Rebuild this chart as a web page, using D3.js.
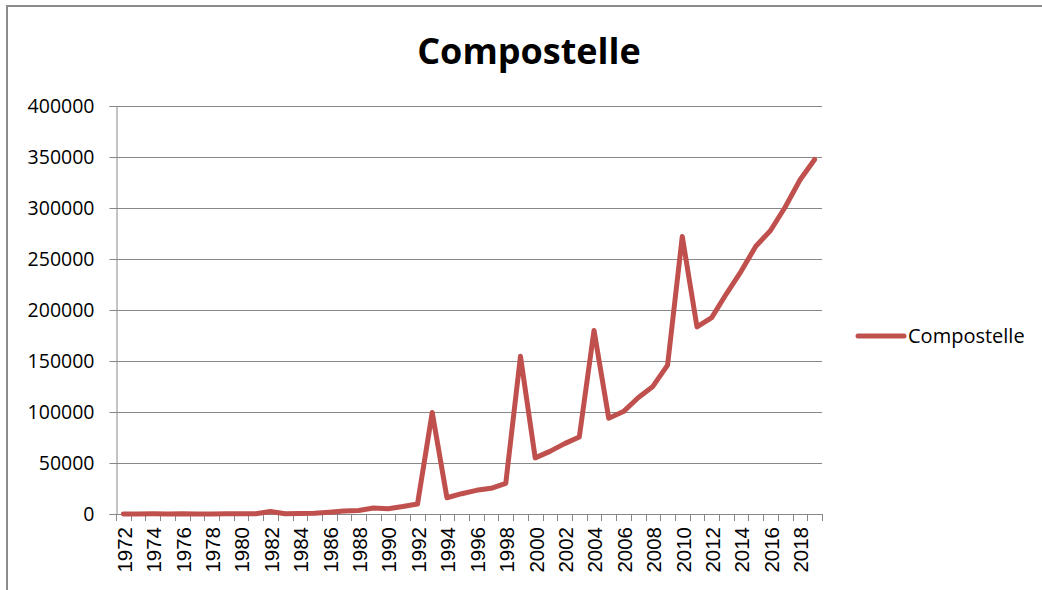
<!DOCTYPE html>
<html>
<head>
<meta charset="utf-8">
<script src="https://cdn.jsdelivr.net/npm/d3@7"></script>
<style>
  html, body { margin: 0; padding: 0; background: #fff; }
  svg { display: block; }
</style>
</head>
<body>
<div id="chart"></div>
<script>
// chart data
const title = "Compostelle";
const seriesName = "Compostelle";
const years = [1972, 1973, 1974, 1975, 1976, 1977, 1978, 1979, 1980, 1981,
  1982, 1983, 1984, 1985, 1986, 1987, 1988, 1989, 1990, 1991,
  1992, 1993, 1994, 1995, 1996, 1997, 1998, 1999, 2000, 2001,
  2002, 2003, 2004, 2005, 2006, 2007, 2008, 2009, 2010, 2011,
  2012, 2013, 2014, 2015, 2016, 2017, 2018, 2019];
const pilgrims = [70, 30, 200, 100, 250, 30, 10, 230, 210, 300,
  2500, 200, 400, 800, 1800, 2900, 3400, 5800, 5200, 7300,
  9800, 99500, 15900, 19900, 23200, 25200, 30100, 154600, 55000, 61400,
  69000, 75500, 180000, 93900, 100400, 114000, 125100, 145900, 272100, 183400,
  192500, 215900, 237900, 262500, 277900, 301000, 327400, 347600];
const yTicks = [0, 50000, 100000, 150000, 200000, 250000, 300000, 350000, 400000];

const W = 1042, H = 590;
const plot = { left: 116, right: 822, top: 106, bottom: 514 };
const red = "#C0504D";
const grey = "#878787";

const svg = d3.select("#chart").append("svg")
  .attr("width", W)
  .attr("height", H);

// outer chart border (runs past the right / bottom edge)
svg.append("rect")
  .attr("x", 7).attr("y", 6)
  .attr("width", W + 20).attr("height", H + 20)
  .attr("fill", "#fff")
  .attr("stroke", "#8c8c8c")
  .attr("stroke-width", 2);

const x = d3.scaleBand()
  .domain(years)
  .range([plot.left, plot.right])
  .padding(0);

const y = d3.scaleLinear()
  .domain([0, 400000])
  .range([plot.bottom, plot.top]);

// gridlines
svg.append("g")
  .selectAll("line")
  .data(yTicks.filter((d) => d > 0))
  .join("line")
  .attr("x1", plot.left)
  .attr("x2", plot.right)
  .attr("y1", (d) => Math.round(y(d)) + 0.5)
  .attr("y2", (d) => Math.round(y(d)) + 0.5)
  .attr("stroke", grey)
  .attr("stroke-width", 1);

// y axis
const yAxis = svg.append("g")
  .attr("transform", `translate(${plot.left + 0.5},0)`)
  .call(d3.axisLeft(y).tickValues(yTicks).tickSize(7).tickPadding(15).tickFormat((d) => d));
yAxis.select(".domain").attr("stroke", grey);
yAxis.selectAll(".tick line").attr("stroke", grey);
yAxis.selectAll(".tick text")
  .attr("fill", "#000")
  .style("font-family", "'Open Sans', sans-serif")
  .style("font-size", "19.5px");

// x axis: ticks sit between categories, Excel style
const xg = svg.append("g");
xg.append("line")
  .attr("x1", plot.left).attr("x2", plot.right)
  .attr("y1", plot.bottom + 0.5).attr("y2", plot.bottom + 0.5)
  .attr("stroke", grey);
const boundaries = years.map((d) => x(d)).concat([x(years[years.length - 1]) + x.bandwidth()]);
xg.selectAll(".xtick")
  .data(boundaries)
  .join("line")
  .attr("class", "xtick")
  .attr("x1", (d) => Math.round(d) + 0.5)
  .attr("x2", (d) => Math.round(d) + 0.5)
  .attr("y1", plot.bottom)
  .attr("y2", plot.bottom + 7)
  .attr("stroke", grey);
xg.selectAll(".xlabel")
  .data(years.filter((d, i) => i % 2 === 0))
  .join("text")
  .attr("class", "xlabel")
  .attr("transform", (d) => `translate(${x(d) + x.bandwidth() / 2 + 1},${plot.bottom + 13}) rotate(-90)`)
  .attr("dy", "0.36em")
  .attr("text-anchor", "end")
  .style("font-family", "'Liberation Sans', Arial, sans-serif")
  .style("font-size", "20.5px")
  .attr("fill", "#000")
  .text((d) => d);

// series line
const line = d3.line()
  .x((d, i) => x(years[i]) + x.bandwidth() / 2)
  .y((d) => y(d));

svg.append("path")
  .datum(pilgrims)
  .attr("d", line)
  .attr("fill", "none")
  .attr("stroke", red)
  .attr("stroke-width", 5)
  .attr("stroke-linejoin", "round")
  .attr("stroke-linecap", "round");

// title
svg.append("text")
  .attr("x", 529)
  .attr("y", 64)
  .attr("text-anchor", "middle")
  .style("font-family", "'Open Sans', sans-serif")
  .style("font-weight", "bold")
  .style("font-size", "36px")
  .attr("fill", "#000")
  .text(title);

// legend
const legend = svg.append("g").attr("transform", "translate(858,336)");
legend.append("line")
  .attr("x1", 0).attr("x2", 46)
  .attr("y1", 0).attr("y2", 0)
  .attr("stroke", red)
  .attr("stroke-width", 5)
  .attr("stroke-linecap", "round");
legend.append("text")
  .attr("x", 50)
  .attr("y", 7)
  .style("font-family", "'Open Sans', sans-serif")
  .style("font-size", "20px")
  .attr("fill", "#000")
  .text(seriesName);
</script>
</body>
</html>
